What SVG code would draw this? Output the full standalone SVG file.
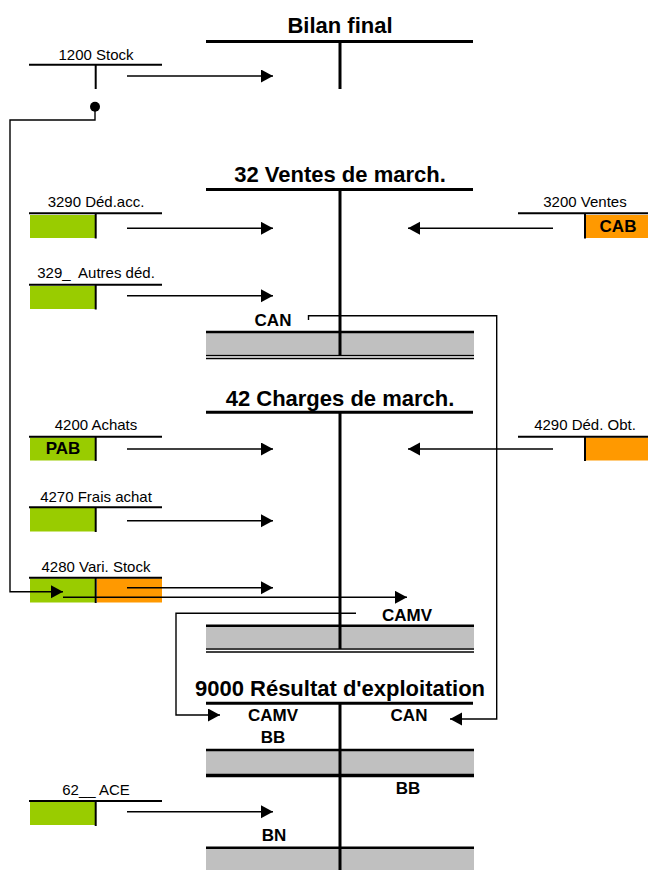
<svg xmlns="http://www.w3.org/2000/svg" width="648" height="870" viewBox="0 0 648 870">
<defs>
<marker id="ah" markerUnits="userSpaceOnUse" markerWidth="13" markerHeight="14" refX="12" refY="6.5" orient="auto">
<path d="M0,0 L12,6.5 L0,13 z" fill="#000"/>
</marker>
<style>
.title{font-family:"Liberation Sans",Arial,sans-serif;font-weight:bold;font-size:22px;text-anchor:middle;fill:#000}
.lbl{font-family:"Liberation Sans",Arial,sans-serif;font-size:15px;text-anchor:middle;fill:#000;white-space:pre}
.bl{font-family:"Liberation Sans",Arial,sans-serif;font-weight:bold;font-size:17px;text-anchor:middle;fill:#000}
.tb{stroke:#000;stroke-width:3;fill:none}
.ts{stroke:#000;stroke-width:2;fill:none}
.thin{stroke:#000;stroke-width:1.5;fill:none}
.g{fill:#99CC00}
.o{fill:#FF9900}
.gr{fill:#C0C0C0}
.c{stroke:#000;stroke-width:1.4;fill:none}
</style>
</defs>
<rect width="648" height="870" fill="#fff"/>

<g id="bilan">
<text class="title" x="340" y="33">Bilan final</text>
<line class="tb" x1="206" y1="41.5" x2="473" y2="41.5"/>
<line class="tb" x1="340" y1="41.5" x2="340" y2="89"/>
</g>

<g id="stock1200">
<text class="lbl" x="96" y="60">1200 Stock</text>
<line class="ts" x1="29" y1="64.7" x2="162" y2="64.7"/>
<line class="ts" x1="95.7" y1="65" x2="95.7" y2="89"/>
</g>

<g id="ventes32">
<text class="title" x="340" y="182">32 Ventes de march.</text>
<rect class="gr" x="206" y="332" width="268" height="22.5"/>
<line class="tb" x1="206" y1="189.5" x2="473" y2="189.5"/>
<line class="tb" x1="340" y1="189.5" x2="340" y2="355"/>
<line class="tb" x1="206" y1="332" x2="474" y2="332" style="stroke-width:2.5"/>
<line class="thin" x1="206" y1="355.5" x2="474" y2="355.5"/>
<line class="thin" x1="206" y1="358.5" x2="474" y2="358.5"/>
<text class="bl" x="273" y="325.7">CAN</text>
</g>

<g id="acc3290">
<text class="lbl" x="96" y="207">3290 Déd.acc.</text>
<rect class="g" x="30" y="215" width="65" height="23"/>
<line class="ts" x1="29" y1="213.3" x2="162" y2="213.3"/>
<line class="ts" x1="95.7" y1="214" x2="95.7" y2="238.5"/>
</g>

<g id="autres329">
<text class="lbl" x="96" y="278.3">329_  Autres déd.</text>
<rect class="g" x="30" y="286" width="65" height="23"/>
<line class="ts" x1="29" y1="284.7" x2="162" y2="284.7"/>
<line class="ts" x1="95.7" y1="285" x2="95.7" y2="309.5"/>
</g>

<g id="ventes3200">
<text class="lbl" x="585" y="207">3200 Ventes</text>
<rect class="o" x="586" y="215" width="62" height="23"/>
<line class="ts" x1="518" y1="213.3" x2="648" y2="213.3"/>
<line class="ts" x1="585" y1="214" x2="585" y2="238.5"/>
<text class="bl" x="618" y="231.7">CAB</text>
</g>

<g id="charges42">
<text class="title" x="340" y="406">42 Charges de march.</text>
<rect class="gr" x="206" y="626" width="268" height="22"/>
<line class="tb" x1="206" y1="412.3" x2="473" y2="412.3"/>
<line class="tb" x1="340" y1="412.3" x2="340" y2="649"/>
<line class="tb" x1="206" y1="625.7" x2="474" y2="625.7" style="stroke-width:2.5"/>
<line class="thin" x1="206" y1="649" x2="474" y2="649"/>
<line class="thin" x1="206" y1="652" x2="474" y2="652"/>
<text class="bl" x="407" y="620.5">CAMV</text>
</g>

<g id="achats4200">
<text class="lbl" x="96" y="430">4200 Achats</text>
<rect class="g" x="30" y="437.5" width="65" height="23"/>
<line class="ts" x1="29" y1="436.7" x2="162" y2="436.7"/>
<line class="ts" x1="95.7" y1="437" x2="95.7" y2="461"/>
<text class="bl" x="63" y="454">PAB</text>
</g>

<g id="frais4270">
<text class="lbl" x="96" y="501.7">4270 Frais achat</text>
<rect class="g" x="30" y="508" width="65" height="23.5"/>
<line class="ts" x1="29" y1="507.3" x2="162" y2="507.3"/>
<line class="ts" x1="95.7" y1="508" x2="95.7" y2="532"/>
</g>

<g id="obt4290">
<text class="lbl" x="585" y="430">4290 Déd. Obt.</text>
<rect class="o" x="586" y="437.5" width="62" height="23"/>
<line class="ts" x1="518" y1="436.7" x2="648" y2="436.7"/>
<line class="ts" x1="585" y1="437" x2="585" y2="461"/>
</g>

<g id="vari4280">
<text class="lbl" x="96" y="572.3">4280 Vari. Stock</text>
<rect class="g" x="30" y="578.5" width="65" height="24"/>
<rect class="o" x="97" y="578.5" width="65" height="24"/>
<line class="ts" x1="29" y1="577.7" x2="162" y2="577.7"/>
<line class="ts" x1="95.7" y1="578" x2="95.7" y2="603"/>
</g>

<g id="res9000">
<text class="title" x="340" y="696">9000 Résultat d'exploitation</text>
<rect class="gr" x="206" y="750" width="268" height="24"/>
<rect class="gr" x="206" y="848" width="268" height="22"/>
<line class="tb" x1="206" y1="703.3" x2="473" y2="703.3"/>
<line class="tb" x1="340" y1="703.3" x2="340" y2="870"/>
<line class="tb" x1="206" y1="750" x2="474" y2="750" style="stroke-width:2.5"/>
<line class="tb" x1="206" y1="775.5" x2="474" y2="775.5" style="stroke-width:3.5"/>
<line class="tb" x1="206" y1="847.7" x2="474" y2="847.7" style="stroke-width:2.5"/>
<text class="bl" x="273" y="721">CAMV</text>
<text class="bl" x="409" y="721">CAN</text>
<text class="bl" x="273" y="743.3">BB</text>
<text class="bl" x="408" y="794">BB</text>
<text class="bl" x="274" y="841">BN</text>
</g>

<g id="ace62">
<text class="lbl" x="96" y="795">62__ ACE</text>
<rect class="g" x="30" y="802" width="65" height="23"/>
<line class="ts" x1="29" y1="801" x2="162" y2="801"/>
<line class="ts" x1="95.7" y1="801.5" x2="95.7" y2="826"/>
</g>

<g id="connectors">
<line class="c" x1="127" y1="76" x2="273" y2="76" marker-end="url(#ah)"/>
<line class="c" x1="127" y1="228.3" x2="273" y2="228.3" marker-end="url(#ah)"/>
<line class="c" x1="127" y1="295.7" x2="273" y2="295.7" marker-end="url(#ah)"/>
<line class="c" x1="553" y1="228.3" x2="408" y2="228.3" marker-end="url(#ah)"/>
<line class="c" x1="127" y1="449" x2="273" y2="449" marker-end="url(#ah)"/>
<line class="c" x1="553" y1="449" x2="408" y2="449" marker-end="url(#ah)"/>
<line class="c" x1="127" y1="520.7" x2="273" y2="520.7" marker-end="url(#ah)"/>
<line class="c" x1="127" y1="587.7" x2="273" y2="587.7" marker-end="url(#ah)"/>
<line class="c" x1="63" y1="597.3" x2="407" y2="597.3" marker-end="url(#ah)"/>
<circle cx="95" cy="106.7" r="5" fill="#000"/>
<path class="c" d="M95,106.7 V120 H10 V591.7 H63" marker-end="url(#ah)"/>
<path class="c" d="M308.5,320 V315.7 H496.7 V719 H450" marker-end="url(#ah)"/>
<path class="c" d="M356,613.3 H176 V715 H220" marker-end="url(#ah)"/>
<line class="c" x1="127" y1="811.7" x2="273" y2="811.7" marker-end="url(#ah)"/>
</g>
</svg>
